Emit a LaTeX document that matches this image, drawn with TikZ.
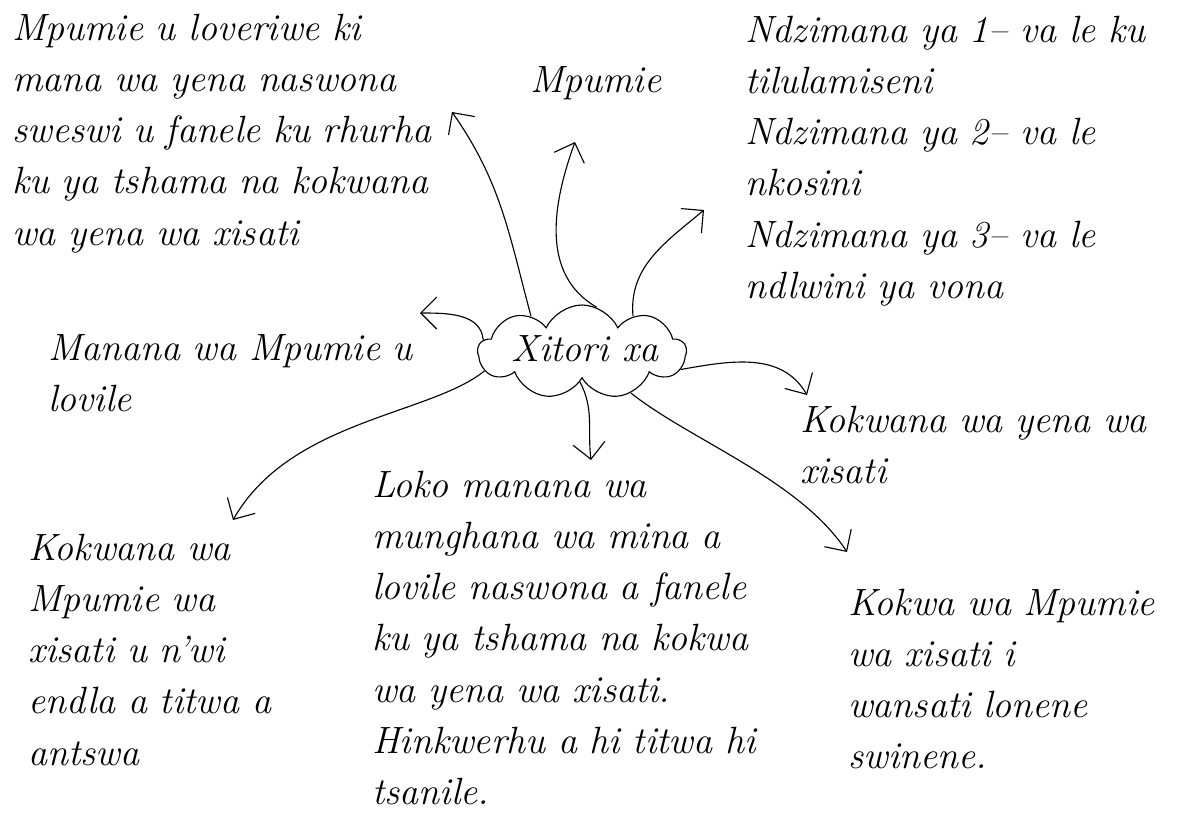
\documentclass[tikz,border=0pt]{standalone}
\usepackage{fontspec}
\usetikzlibrary{shapes.symbols, arrows.meta}

\begin{document}
\begin{tikzpicture}[x = 0.025cm, y = -0.025cm,
    hand/.style = {inner sep = 0, font = \fontsize{27}{36.5}\selectfont\itshape},
    note/.style = {hand, anchor = base west, text width = 11cm, align = left},
    storycloud/.style = {draw, cloud, cloud puffs = 9, cloud puff arc = 130,
        cloud ignores aspect, minimum width = 5.2cm, minimum height = 2.35cm,
        line width = 0.8pt},
    branch/.style = {line width = 0.8pt, -{Straight Barb[length = 4mm, width = 8mm]}}]
    \useasboundingbox[fill = white] (0, 0) rectangle (1187, 817);

    % centre of the map
    \node[storycloud] (cloud) at (582, 352) {};
    \node[hand, anchor = base] (title) at (585, 361) {Xitori xa};

    % the notes round it
    \node[note] (told) at (12, 40) {Mpumie u loveriwe ki\\ mana wa yena naswona\\
        sweswi u fanele ku rhurha\\ ku ya tshama na kokwana\\ wa yena wa xisati};
    \node[hand, anchor = base west] (name) at (530, 92) {Mpumie};
    \node[note] (chapters) at (745, 42) {Ndzimana ya 1-- va le ku\\ tilulamiseni\\
        Ndzimana ya 2-- va le\\ nkosini\\ Ndzimana ya 3-- va le\\ ndlwini ya vona};
    \node[note] (mother) at (48, 360) {Manana wa Mpumie u\\ lovile};
    \node[note] (granny) at (800, 432) {Kokwana wa yena wa\\ xisati};
    \node[note] (makes) at (28, 560) {Kokwana wa\\ Mpumie wa\\ xisati u n'wi\\
        endla a titwa a\\ antswa};
    \node[note] (friend) at (372, 497) {Loko manana wa\\ munghana wa mina a\\
        lovile naswona a fanele\\ ku ya tshama na kokwa\\ wa yena wa xisati.\\
        Hinkwerhu a hi titwa hi\\ tsanile.};
    \node[note] (kind) at (848, 615) {Kokwa wa Mpumie\\ wa xisati i\\
        wansati lonene\\ swinene.};

    % arrow ends
    \coordinate (tipA) at (452, 112);
    \coordinate (tipB) at (575, 142);
    \coordinate (tipC) at (704, 210);
    \coordinate (tipD) at (420, 313);
    \coordinate (tipE) at (233, 520);
    \coordinate (tipF) at (591, 460);
    \coordinate (tipG) at (807, 395);
    \coordinate (tipH) at (847, 552);

    \draw[branch] (cloud.145) to[out = 105, in = -55] (tipA);
    \draw[branch] (cloud.72) to[out = 150, in = -110] (tipB);
    \draw[branch] (cloud.35) to[out = 95, in = -140] (tipC);
    \draw[branch] (cloud.173) to[out = 95, in = 0] (tipD);
    \draw[branch] (cloud.191) .. controls (430, 415) and (290, 420) .. (tipE);
    \draw[branch] (cloud.266) to[out = -62, in = 97] (tipF);
    \draw[branch] (cloud.350) to[out = 10, in = 120] (tipG);
    \draw[branch] (cloud.320) .. controls (690, 440) and (800, 480) .. (tipH);
%    \draw (cloud.south) -- (friend.north);
\end{tikzpicture}
\end{document}
